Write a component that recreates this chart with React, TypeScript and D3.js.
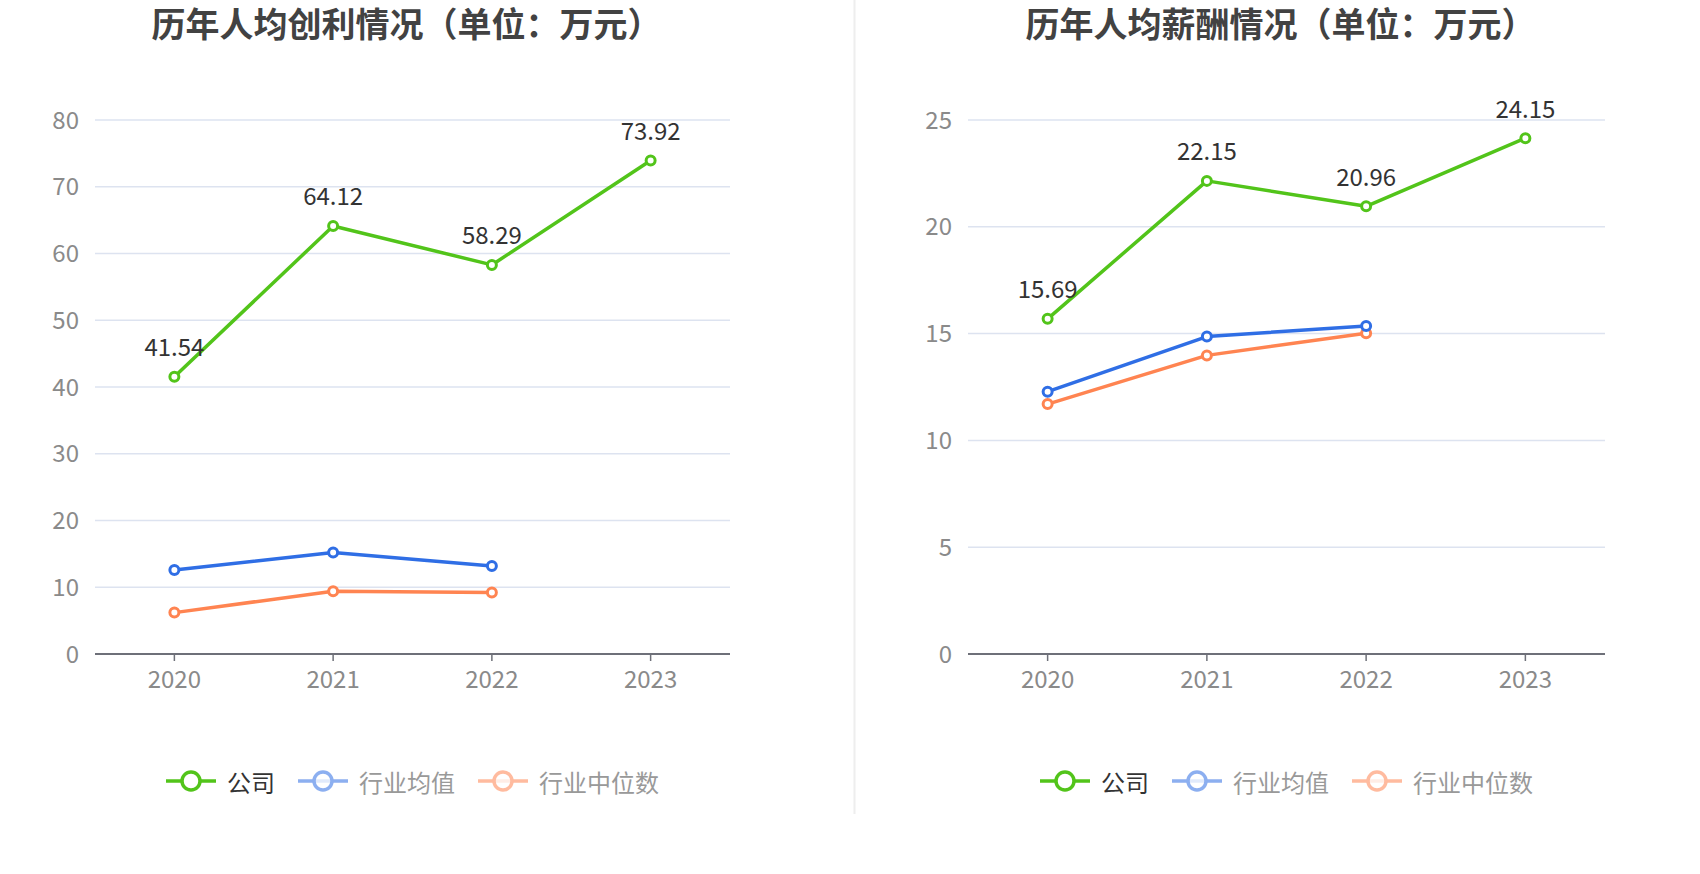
import { useEffect, useRef } from "react";
import * as d3 from "d3";

const years = ["2020", "2021", "2022", "2023"];

const profitCompany = [41.54, 64.12, 58.29, 73.92];
const profitAverage = [12.6, 15.2, 13.2];
const profitMedian = [6.2, 9.4, 9.2];
const profitTicks = [0, 10, 20, 30, 40, 50, 60, 70, 80];

const salaryCompany = [15.69, 22.15, 20.96, 24.15];
const salaryAverage = [12.28, 14.86, 15.36];
const salaryMedian = [11.7, 13.98, 15.02];
const salaryTicks = [0, 5, 10, 15, 20, 25];

const seriesNames = ["公司", "行业均值", "行业中位数"];
const seriesColors = ["#52c41a", "#2f6ee5", "#ff8451"];

const FONT = "'Noto Sans CJK SC', 'Noto Sans', sans-serif";

interface Panel {
  title: string;
  left: number;
  right: number;
  ticks: number[];
  series: number[][];
}

function drawPanel(svg: d3.Selection<SVGSVGElement, unknown, null, undefined>, p: Panel) {
  const top = 120;
  const bottom = 654;
  const g = svg.append("g");

  const x = d3.scaleBand().domain(years).range([p.left, p.right]);
  const y = d3
    .scaleLinear()
    .domain([0, d3.max(p.ticks)!])
    .range([bottom, top]);
  const cx = (i: number) => x(years[i])! + x.bandwidth() / 2;
  const mid = (p.left + p.right) / 2;

  g.append("text")
    .attr("x", mid - 6)
    .attr("y", 37)
    .attr("text-anchor", "middle")
    .attr("font-family", FONT)
    .attr("font-size", 34)
    .attr("font-weight", "bold")
    .attr("fill", "#424242")
    .text(p.title);

  // grid lines + y labels
  g.selectAll(".grid")
    .data(p.ticks.filter((t) => t > 0))
    .enter()
    .append("line")
    .attr("x1", p.left)
    .attr("x2", p.right)
    .attr("y1", (d) => y(d))
    .attr("y2", (d) => y(d))
    .attr("stroke", "#dde3f0")
    .attr("stroke-width", 1.5);

  g.selectAll(".ylab")
    .data(p.ticks)
    .enter()
    .append("text")
    .attr("x", p.left - 16)
    .attr("y", (d) => y(d) - 2)
    .attr("text-anchor", "end")
    .attr("dominant-baseline", "central")
    .attr("font-family", FONT)
    .attr("font-size", 24)
    .attr("fill", "#8a8a8a")
    .text((d) => d);

  // x axis
  g.append("line")
    .attr("x1", p.left)
    .attr("x2", p.right)
    .attr("y1", y(0))
    .attr("y2", y(0))
    .attr("stroke", "#6e7079")
    .attr("stroke-width", 2);

  g.selectAll(".xtick")
    .data(years)
    .enter()
    .append("line")
    .attr("x1", (_d, i) => cx(i))
    .attr("x2", (_d, i) => cx(i))
    .attr("y1", y(0))
    .attr("y2", y(0) + 7)
    .attr("stroke", "#6e7079")
    .attr("stroke-width", 1.5);

  g.selectAll(".xlab")
    .data(years)
    .enter()
    .append("text")
    .attr("x", (_d, i) => cx(i))
    .attr("y", y(0) + 23)
    .attr("text-anchor", "middle")
    .attr("dominant-baseline", "central")
    .attr("font-family", FONT)
    .attr("font-size", 24)
    .attr("fill", "#8a8a8a")
    .text((d) => d);

  // series, drawn back to front so the company line sits on top
  const line = d3
    .line<number>()
    .x((_d, i) => cx(i))
    .y((d) => y(d));

  [2, 1, 0].forEach((s) => {
    const values = p.series[s];
    const color = seriesColors[s];
    g.append("path")
      .attr("d", line(values))
      .attr("fill", "none")
      .attr("stroke", color)
      .attr("stroke-width", 3.5)
      .attr("stroke-linejoin", "round");

    g.selectAll(".pt" + s)
      .data(values)
      .enter()
      .append("circle")
      .attr("cx", (_d, i) => cx(i))
      .attr("cy", (d) => y(d))
      .attr("r", 4.5)
      .attr("fill", "#fff")
      .attr("stroke", color)
      .attr("stroke-width", 3);
  });

  g.selectAll(".vlab")
    .data(p.series[0])
    .enter()
    .append("text")
    .attr("x", (_d, i) => cx(i))
    .attr("y", (d) => y(d) - 31)
    .attr("text-anchor", "middle")
    .attr("dominant-baseline", "central")
    .attr("font-family", FONT)
    .attr("font-size", 24)
    .attr("fill", "#333")
    .text((d) => d.toFixed(2));

  // legend
  const fontSize = 24;
  const widths = seriesNames.map((n) => 50 + 11 + n.length * fontSize);
  const total = d3.sum(widths) + 23 * (seriesNames.length - 1);
  let lx = mid - total / 2;
  const ly = 781;
  seriesNames.forEach((name, s) => {
    const item = g.append("g").attr("opacity", s === 0 ? 1 : 0.55);
    item
      .append("line")
      .attr("x1", lx)
      .attr("x2", lx + 50)
      .attr("y1", ly)
      .attr("y2", ly)
      .attr("stroke", seriesColors[s])
      .attr("stroke-width", 3.5);
    item
      .append("circle")
      .attr("cx", lx + 25)
      .attr("cy", ly)
      .attr("r", 9)
      .attr("fill", "#fff")
      .attr("fill-opacity", s === 0 ? 1 : 0.75)
      .attr("stroke", seriesColors[s])
      .attr("stroke-width", 3.5);
    g.append("text")
      .attr("x", lx + 61)
      .attr("y", ly)
      .attr("dominant-baseline", "central")
      .attr("font-family", FONT)
      .attr("font-size", fontSize)
      .attr("fill", s === 0 ? "#333" : "#999")
      .text(name);
    lx += widths[s] + 23;
  });
}

export default function App() {
  const ref = useRef<SVGSVGElement | null>(null);

  useEffect(() => {
    const svg = d3.select(ref.current!).attr("width", 1700).attr("height", 874);
    svg.selectAll("*").remove();

    svg.append("rect").attr("width", 1700).attr("height", 874).attr("fill", "#fff");

    drawPanel(svg, {
      title: "历年人均创利情况（单位：万元）",
      left: 95,
      right: 730,
      ticks: profitTicks,
      series: [profitCompany, profitAverage, profitMedian],
    });

    // divider between the two charts
    svg
      .append("line")
      .attr("x1", 854.5)
      .attr("x2", 854.5)
      .attr("y1", 0)
      .attr("y2", 814)
      .attr("stroke", "#eeeeee")
      .attr("stroke-width", 2);

    drawPanel(svg, {
      title: "历年人均薪酬情况（单位：万元）",
      left: 968,
      right: 1605,
      ticks: salaryTicks,
      series: [salaryCompany, salaryAverage, salaryMedian],
    });
  }, []);

  return (
    <div style={{ position: "absolute", top: 0, left: 0 }}>
      <svg ref={ref} style={{ display: "block" }} />
    </div>
  );
}
